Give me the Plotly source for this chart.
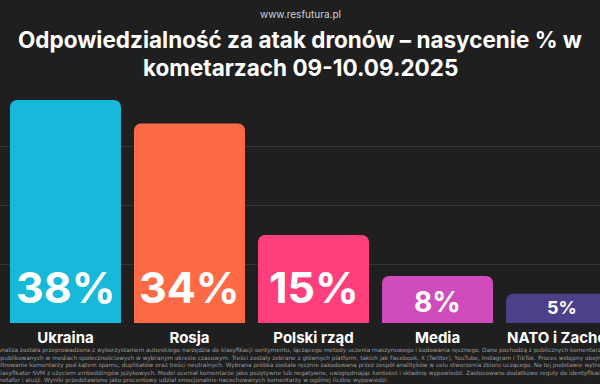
import plotly.graph_objects as go

categories = ["Ukraina", "Rosja", "Polski rząd", "Media", "NATO i Zachód"]
values = [38, 34, 15, 8, 5]
colors = ["#17b9da", "#ff6a46", "#ff3f7b", "#d04cbd", "#4c4088"]
label_sizes = [43, 43, 43, 28, 18]
label_lift = [8, 8, 8, 2, 3]

title_lines = ["Odpowiedzialność za atak dronów – nasycenie % w", "kometarzach 09-10.09.2025"]
source_text = "www.resfutura.pl"
footnote_lines = [
    "Analiza została przeprowadzona z wykorzystaniem autorskiego narzędzia do klasyfikacji sentymentu, łączącego metody uczenia maszynowego i kodowania ręcznego. Dane pochodzą z publicznych komentarzy",
    "opublikowanych w mediach społecznościowych w wybranym okresie czasowym. Treści zostały zebrane z głównych platform, takich jak Facebook, X (Twitter), YouTube, Instagram i TikTok. Proces wstępny obejmował",
    "filtrowanie komentarzy pod kątem spamu, duplikatów oraz treści neutralnych. Wybrana próbka została ręcznie zakodowana przez zespół analityków w celu stworzenia zbioru uczącego. Na tej podstawie wytrenowano",
    "klasyfikator SVM z użyciem embeddingów językowych. Model oceniał komentarze jako pozytywne lub negatywne, uwzględniając kontekst i składnię wypowiedzi. Zastosowano dodatkowe reguły do identyfikacji",
    "metafor i aluzji. Wyniki przedstawiono jako procentowy udział emocjonalnie nacechowanych komentarzy w ogólnej liczbie wypowiedzi.",
]

FONT = "Inter"
BG = "#1f1f1f"
PLOT_TOP, PLOT_BOTTOM = 100, 323
PLOT_H = PLOT_BOTTOM - PLOT_TOP


def py(pixel_y):
    return (PLOT_BOTTOM - pixel_y) / PLOT_H


fig = go.Figure(
    go.Bar(
        x=categories,
        y=values,
        marker=dict(color=colors, line=dict(width=0), cornerradius=7),
        hoverinfo="skip",
    )
)

annotations = []
for cat, val, size, lift in zip(categories, values, label_sizes, label_lift):
    annotations.append(
        dict(
            text=f"{val}%",
            x=cat,
            y=0,
            xref="x",
            yref="y",
            xanchor="center",
            yanchor="bottom",
            yshift=lift,
            showarrow=False,
            font=dict(family=FONT, size=size, color="white", weight="bold"),
        )
    )

for line, ypix in zip(title_lines, [40, 67]):
    annotations.append(
        dict(
            text=line,
            x=0.5,
            y=py(ypix),
            xref="paper",
            yref="paper",
            xanchor="center",
            yanchor="middle",
            showarrow=False,
            font=dict(family=FONT, size=22.5, color="white", weight="bold"),
        )
    )

annotations.append(
    dict(
        text=source_text,
        x=0.5,
        y=py(14),
        xref="paper",
        yref="paper",
        xanchor="center",
        yanchor="middle",
        showarrow=False,
        font=dict(family=FONT, size=10, color="#cfcfcf"),
    )
)
annotations.append(
    dict(
        text="<br>".join(footnote_lines),
        x=-5 / 600,
        y=py(345),
        xref="paper",
        yref="paper",
        xanchor="left",
        yanchor="top",
        align="left",
        showarrow=False,
        font=dict(family="DejaVu Sans", size=5.8, color="#9a9a9a"),
    )
)

fig.update_layout(
    width=600,
    height=384,
    margin=dict(l=0, r=0, t=PLOT_TOP, b=384 - PLOT_BOTTOM, autoexpand=False),
    paper_bgcolor=BG,
    plot_bgcolor=BG,
    bargap=0.105,
    showlegend=False,
    xaxis=dict(
        range=[-0.528, 4.31],
        showgrid=False,
        zeroline=False,
        showline=False,
        ticks="",
        automargin=False,
        ticklabelstandoff=4,
        tickfont=dict(family=FONT, size=15, color="white", weight="bold"),
        fixedrange=True,
    ),
    yaxis=dict(
        range=[0, 38],
        dtick=10,
        showgrid=True,
        gridcolor="#343434",
        gridwidth=1,
        zeroline=False,
        showticklabels=False,
        automargin=False,
        fixedrange=True,
    ),
    annotations=annotations,
)

fig.write_html(
    "out.html",
    config={"displayModeBar": False, "staticPlot": True},
    post_script="document.body.style.margin='0';document.body.style.background='#1f1f1f';document.body.style.overflow='hidden';",
)
